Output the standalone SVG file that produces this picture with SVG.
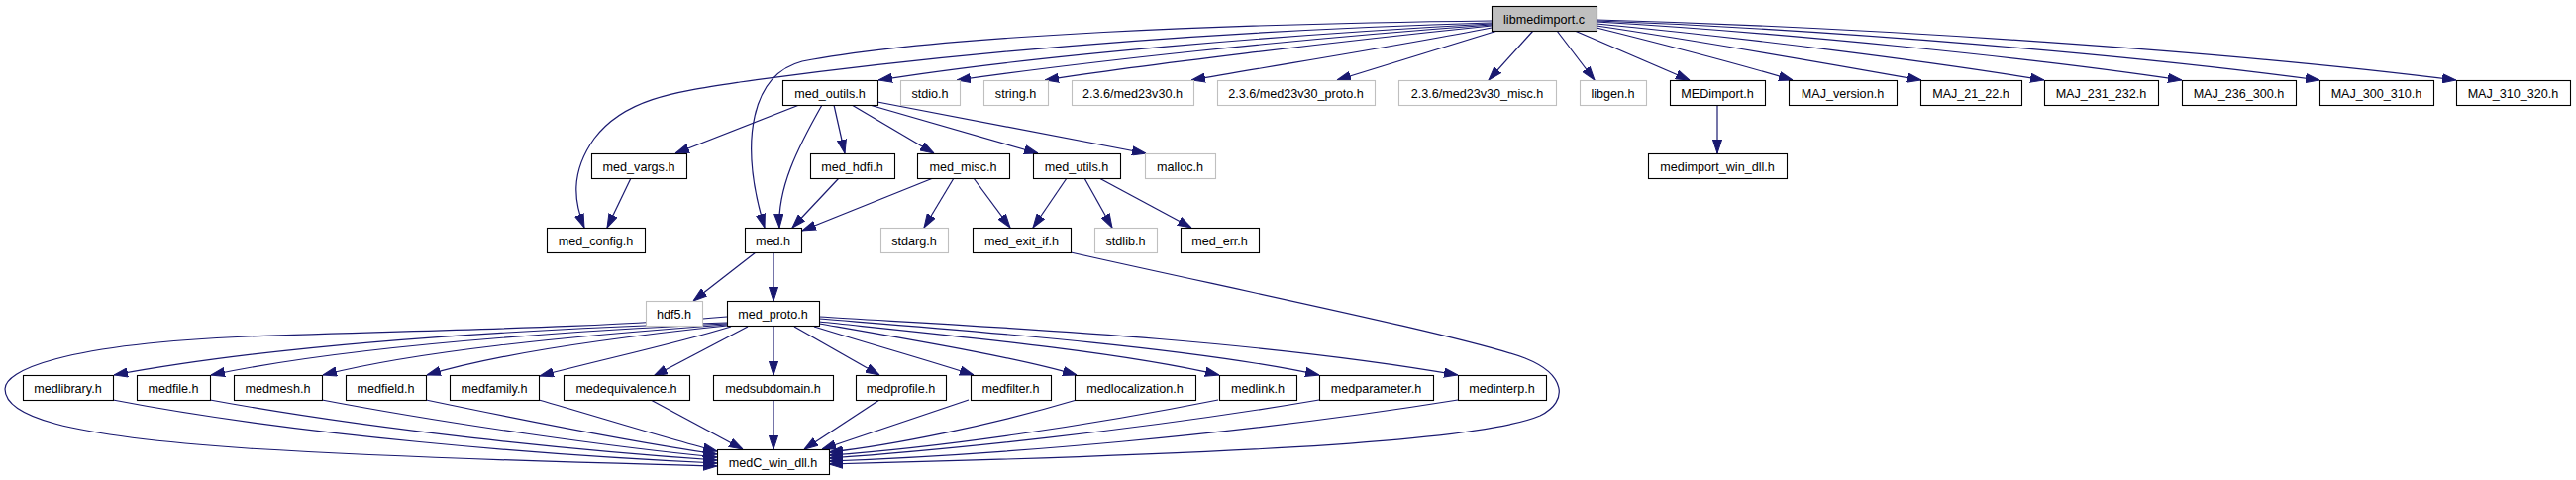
<svg xmlns="http://www.w3.org/2000/svg" width="2601" height="485" viewBox="0 0 2601 485">
<style>
.n rect{fill:#fff;stroke:#000;stroke-width:1.1}
.n.g rect{stroke:#bfbfbf}
.n.root rect{fill:#bfbfbf}
text{font-family:"Liberation Sans",Arial,Helvetica,sans-serif;font-size:12.6px;text-anchor:middle;fill:#000}
.e path{fill:none;stroke:#191970;stroke-width:1.2;marker-end:url(#a)}
</style>
<defs>
<marker id="a" markerUnits="userSpaceOnUse" markerWidth="14" markerHeight="10" viewBox="0 0 14 10" refX="14" refY="5" orient="auto">
<path d="M0,0.4 L14,5 L0,9.6 z" fill="#191970" stroke="#191970" stroke-width="1"/>
</marker>
</defs>
<rect x="0" y="0" width="2601" height="485" fill="#fff"/>
<g id="edges" class="e">
<path d="M1506,24 C1300,35 1050,55 887,81"/>
<path d="M1506,25 C1300,40 1100,62 966,81"/>
<path d="M1506,26 C1350,42 1150,66 1055,81"/>
<path d="M1506,28 C1420,45 1300,64 1203,81"/>
<path d="M1512,31 L1350,81"/>
<path d="M1548,31 L1503,81"/>
<path d="M1572,31 L1610,81"/>
<path d="M1590,31 L1706,81"/>
<path d="M1612,28 C1680,45 1760,66 1810,81"/>
<path d="M1612,26 C1720,42 1850,65 1940,81"/>
<path d="M1612,24 C1760,38 1950,62 2064,81"/>
<path d="M1612,22 C1800,33 2050,58 2203,81"/>
<path d="M1612,21 C1850,30 2150,55 2342,81"/>
<path d="M1612,20 C1900,28 2250,52 2480,81"/>
<path d="M1506,21 C1250,24 950,35 810,62 C760,75 745,140 772,230"/>
<path d="M1506,23 C1200,32 950,55 747,83 C680,93 630,100 600,140 C575,175 580,205 590,230"/>
<path d="M807,106 L682,155"/>
<path d="M830,106 C805,150 785,190 787,230"/>
<path d="M842,106 L853,155"/>
<path d="M860,106 L943,155"/>
<path d="M878,106 L1048,155"/>
<path d="M886,103 L1157,155"/>
<path d="M637,180 L613,230"/>
<path d="M847,180 L800,230"/>
<path d="M942,180 L810,233"/>
<path d="M963,180 L933,230"/>
<path d="M983,180 L1020,230"/>
<path d="M1077,180 L1043,230"/>
<path d="M1095,180 L1123,230"/>
<path d="M1110,180 L1203,230"/>
<path d="M1734,106 L1734,155"/>
<path d="M763,255 L700,304"/>
<path d="M781,255 L781,304"/>
<path d="M734,320 C600,332 400,334 250,340 C60,348 5,375 5,393 C5,420 60,440 250,453 C450,465 620,468 724,471"/>
<path d="M734,326 C486,334 270,350 115,379"/>
<path d="M734,327 C526,337 340,352 213,379"/>
<path d="M734,328 C570,340 420,355 326,379"/>
<path d="M734,329 C610,342 500,358 431,379"/>
<path d="M738,330 C680,348 600,365 545,380"/>
<path d="M755,330 L660,380"/>
<path d="M781,330 L781,379"/>
<path d="M802,330 L888,379"/>
<path d="M822,330 C880,348 940,365 983,379"/>
<path d="M827,327 C930,345 1030,362 1087,379"/>
<path d="M827,325 C950,338 1130,355 1231,379"/>
<path d="M827,322 C950,332 1200,350 1332,379"/>
<path d="M827,320 C950,328 1250,340 1472,379"/>
<path d="M114,404 C300,440 550,460 724,468"/>
<path d="M212,404 C380,435 580,455 724,465"/>
<path d="M325,404 C450,428 620,452 724,462"/>
<path d="M430,404 C530,425 650,448 724,459"/>
<path d="M544,404 C600,420 680,445 724,456"/>
<path d="M657,404 L750,454"/>
<path d="M781,404 L781,454"/>
<path d="M888,404 L812,454"/>
<path d="M978,404 L830,454"/>
<path d="M1087,404 C1000,430 900,450 837,457"/>
<path d="M1230,404 C1100,430 950,452 837,460"/>
<path d="M1332,404 C1150,435 950,455 837,463"/>
<path d="M1472,404 C1250,440 1000,460 837,466"/>
<path d="M1081,255 C1250,293 1480,340 1540,362 C1580,378 1585,405 1555,420 C1490,448 1200,460 837,469"/>
</g>
<g id="node-libmedimport_c" class="n root"><rect x="1506.5" y="6.5" width="106" height="25"/><text x="1559" y="23.5">libmedimport.c</text></g>
<g id="node-med_outils_h" class="n"><rect x="790.5" y="81.5" width="96" height="25"/><text x="838" y="98.5">med_outils.h</text></g>
<g id="node-stdio_h" class="n g"><rect x="909.5" y="81.5" width="60" height="25"/><text x="939" y="98.5">stdio.h</text></g>
<g id="node-string_h" class="n g"><rect x="993.5" y="81.5" width="65" height="25"/><text x="1025.5" y="98.5">string.h</text></g>
<g id="node-med23v30_h" class="n g"><rect x="1082.5" y="81.5" width="123" height="25"/><text x="1143.5" y="98.5">2.3.6/med23v30.h</text></g>
<g id="node-med23v30_proto_h" class="n g"><rect x="1229.5" y="81.5" width="159" height="25"/><text x="1308.5" y="98.5">2.3.6/med23v30_proto.h</text></g>
<g id="node-med23v30_misc_h" class="n g"><rect x="1412.5" y="81.5" width="159" height="25"/><text x="1491.5" y="98.5">2.3.6/med23v30_misc.h</text></g>
<g id="node-libgen_h" class="n g"><rect x="1595.5" y="81.5" width="67" height="25"/><text x="1628.5" y="98.5">libgen.h</text></g>
<g id="node-MEDimport_h" class="n"><rect x="1686.5" y="81.5" width="96" height="25"/><text x="1734" y="98.5">MEDimport.h</text></g>
<g id="node-MAJ_version_h" class="n"><rect x="1806.5" y="81.5" width="109" height="25"/><text x="1860.5" y="98.5">MAJ_version.h</text></g>
<g id="node-MAJ_21_22_h" class="n"><rect x="1939.5" y="81.5" width="102" height="25"/><text x="1990" y="98.5">MAJ_21_22.h</text></g>
<g id="node-MAJ_231_232_h" class="n"><rect x="2064.5" y="81.5" width="115" height="25"/><text x="2121.5" y="98.5">MAJ_231_232.h</text></g>
<g id="node-MAJ_236_300_h" class="n"><rect x="2203.5" y="81.5" width="115" height="25"/><text x="2260.5" y="98.5">MAJ_236_300.h</text></g>
<g id="node-MAJ_300_310_h" class="n"><rect x="2342.5" y="81.5" width="115" height="25"/><text x="2399.5" y="98.5">MAJ_300_310.h</text></g>
<g id="node-MAJ_310_320_h" class="n"><rect x="2480.5" y="81.5" width="115" height="25"/><text x="2537.5" y="98.5">MAJ_310_320.h</text></g>
<g id="node-med_vargs_h" class="n"><rect x="597.5" y="155.5" width="96" height="25"/><text x="645" y="172.5">med_vargs.h</text></g>
<g id="node-med_hdfi_h" class="n"><rect x="818.5" y="155.5" width="85" height="25"/><text x="860.5" y="172.5">med_hdfi.h</text></g>
<g id="node-med_misc_h" class="n"><rect x="926.5" y="155.5" width="93" height="25"/><text x="972.5" y="172.5">med_misc.h</text></g>
<g id="node-med_utils_h" class="n"><rect x="1043.5" y="155.5" width="88" height="25"/><text x="1087" y="172.5">med_utils.h</text></g>
<g id="node-malloc_h" class="n g"><rect x="1156.5" y="155.5" width="71" height="25"/><text x="1191.5" y="172.5">malloc.h</text></g>
<g id="node-medimport_win_dll_h" class="n"><rect x="1664.5" y="155.5" width="140" height="25"/><text x="1734" y="172.5">medimport_win_dll.h</text></g>
<g id="node-med_config_h" class="n"><rect x="552.5" y="230.5" width="99" height="25"/><text x="601.5" y="247.5">med_config.h</text></g>
<g id="node-med_h" class="n"><rect x="752.5" y="230.5" width="57" height="25"/><text x="780.5" y="247.5">med.h</text></g>
<g id="node-stdarg_h" class="n g"><rect x="889.5" y="230.5" width="68" height="25"/><text x="923" y="247.5">stdarg.h</text></g>
<g id="node-med_exit_if_h" class="n"><rect x="982.5" y="230.5" width="99" height="25"/><text x="1031.5" y="247.5">med_exit_if.h</text></g>
<g id="node-stdlib_h" class="n g"><rect x="1105.5" y="230.5" width="63" height="25"/><text x="1136.5" y="247.5">stdlib.h</text></g>
<g id="node-med_err_h" class="n"><rect x="1192.5" y="230.5" width="79" height="25"/><text x="1231.5" y="247.5">med_err.h</text></g>
<g id="node-hdf5_h" class="n g"><rect x="652.5" y="304.5" width="57" height="25"/><text x="680.5" y="321.5">hdf5.h</text></g>
<g id="node-med_proto_h" class="n"><rect x="734.5" y="304.5" width="93" height="25"/><text x="780.5" y="321.5">med_proto.h</text></g>
<g id="node-medlibrary_h" class="n"><rect x="23.5" y="379.5" width="91" height="25"/><text x="68.5" y="396.5">medlibrary.h</text></g>
<g id="node-medfile_h" class="n"><rect x="138.5" y="379.5" width="74" height="25"/><text x="175" y="396.5">medfile.h</text></g>
<g id="node-medmesh_h" class="n"><rect x="236.5" y="379.5" width="89" height="25"/><text x="280.5" y="396.5">medmesh.h</text></g>
<g id="node-medfield_h" class="n"><rect x="349.5" y="379.5" width="81" height="25"/><text x="389.5" y="396.5">medfield.h</text></g>
<g id="node-medfamily_h" class="n"><rect x="454.5" y="379.5" width="90" height="25"/><text x="499" y="396.5">medfamily.h</text></g>
<g id="node-medequivalence_h" class="n"><rect x="569.5" y="379.5" width="127" height="25"/><text x="632.5" y="396.5">medequivalence.h</text></g>
<g id="node-medsubdomain_h" class="n"><rect x="720.5" y="379.5" width="121" height="25"/><text x="780.5" y="396.5">medsubdomain.h</text></g>
<g id="node-medprofile_h" class="n"><rect x="864.5" y="379.5" width="91" height="25"/><text x="909.5" y="396.5">medprofile.h</text></g>
<g id="node-medfilter_h" class="n"><rect x="980.5" y="379.5" width="81" height="25"/><text x="1020.5" y="396.5">medfilter.h</text></g>
<g id="node-medlocalization_h" class="n"><rect x="1085.5" y="379.5" width="122" height="25"/><text x="1146" y="396.5">medlocalization.h</text></g>
<g id="node-medlink_h" class="n"><rect x="1231.5" y="379.5" width="78" height="25"/><text x="1270" y="396.5">medlink.h</text></g>
<g id="node-medparameter_h" class="n"><rect x="1332.5" y="379.5" width="115" height="25"/><text x="1389.5" y="396.5">medparameter.h</text></g>
<g id="node-medinterp_h" class="n"><rect x="1472.5" y="379.5" width="89" height="25"/><text x="1516.5" y="396.5">medinterp.h</text></g>
<g id="node-medC_win_dll_h" class="n"><rect x="724.5" y="454.5" width="113" height="25"/><text x="780.5" y="471.5">medC_win_dll.h</text></g>
</svg>
